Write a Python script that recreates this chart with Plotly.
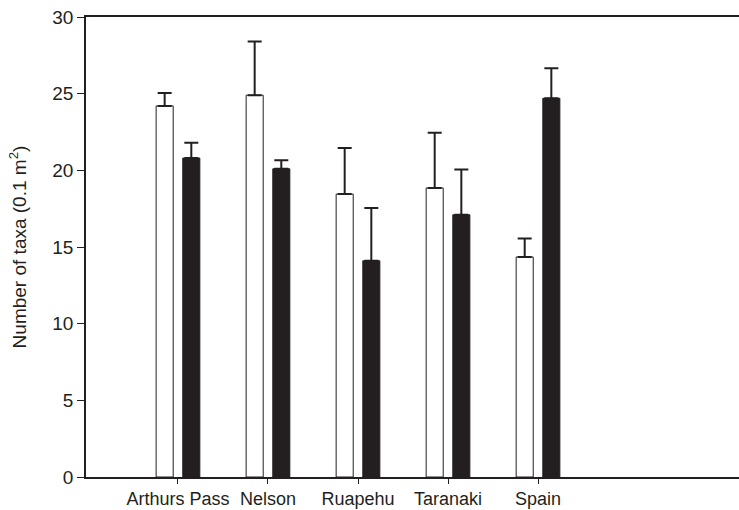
import plotly.graph_objects as go

# Sites and mean taxon richness per 0.1 m2 sample (two treatments)
sites = ["Arthurs Pass", "Nelson", "Ruapehu", "Taranaki", "Spain"]
open_means = [24.2, 24.9, 18.45, 18.85, 14.35]
open_se = [0.85, 3.5, 3.0, 3.6, 1.2]
filled_means = [20.8, 20.1, 14.1, 17.1, 24.7]
filled_se = [1.0, 0.55, 3.45, 2.95, 1.95]

pos = list(range(len(sites)))
zeros = [0] * len(sites)
ink = "#231f20"
font = "Arial, Liberation Sans, Helvetica, sans-serif"

fig = go.Figure()
fig.add_trace(go.Bar(
    x=pos, y=open_means,
    marker=dict(color="white", line=dict(color=ink, width=1)),
    error_y=dict(type="data", symmetric=False, array=open_se, arrayminus=zeros,
                 color=ink, thickness=2, width=7),
    showlegend=False,
))
fig.add_trace(go.Bar(
    x=pos, y=filled_means,
    marker=dict(color=ink, line=dict(color=ink, width=1)),
    error_y=dict(type="data", symmetric=False, array=filled_se, arrayminus=zeros,
                 color=ink, thickness=2, width=7),
    showlegend=False,
))

fig.update_layout(
    width=739, height=510,
    margin=dict(l=86, r=0, t=17, b=33),
    paper_bgcolor="white", plot_bgcolor="white",
    barmode="group", bargap=0.408, bargroupgap=0.36,
    font=dict(family=font, color=ink, size=17),
)
fig.update_xaxes(
    range=[-1.022, 6.233],
    tickmode="array", tickvals=pos, ticktext=sites,
    ticks="outside", ticklen=5, tickwidth=1, tickcolor=ink,
    showline=True, linecolor=ink, linewidth=1.5, mirror=True,
    showgrid=False, zeroline=False,
    tickfont=dict(size=18, family=font, color=ink),
)
fig.update_yaxes(
    range=[0, 30], tickmode="linear", tick0=0, dtick=5,
    ticks="outside", ticklen=7, tickwidth=1, tickcolor=ink,
    showline=True, linecolor=ink, linewidth=1.5,
    showgrid=False, zeroline=False,
    tickfont=dict(size=19, family=font, color=ink),
    title=dict(text="Number of taxa (0.1 m<sup>2</sup>)", font=dict(size=19, family=font, color=ink), standoff=21),
)

fig.write_html("out.html")
